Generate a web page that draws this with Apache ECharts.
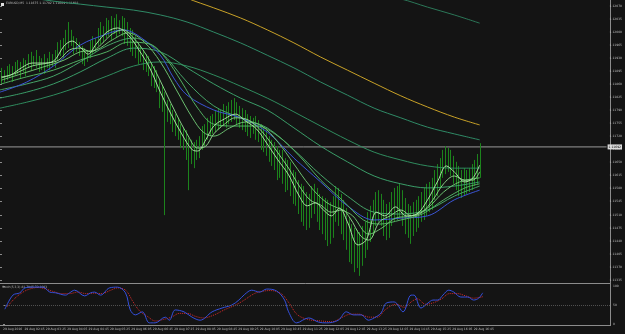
<!DOCTYPE html>
<html>
<head>
<meta charset="utf-8">
<script src="https://cdn.jsdelivr.net/npm/echarts@6/dist/echarts.min.js"></script>
<style>
  html, body { margin: 0; padding: 0; background: #141414; }
  #chart { width: 625px; height: 334px; }
</style>
</head>
<body>
<div id="chart"></div>
<script>
// EURUSD M5, 29 Aug 2016
const symbolTitle = 'EURUSD,M5  1.11675 1.11702 1.11609 1.11692';
const stochTitle = 'Stoch(5,3,3) 81.7045 72.1083';
const dayLabel = '29 Aug';
const firstLabel = '29 Aug 2016';
const firstBarMinutes = 125; // 02:05
const barMinutes = 5;
const slots = 227;           // bars that fit incl. chart shift
const labelEvery = 8;

// price axis ticks
const priceMin = 1.11335;
const priceMax = 1.12070;
const priceStep = 0.00035;
const lastClose = 1.11692;

const highs = [
  1.11904, 1.11898, 1.11909, 1.11914, 1.11909, 1.11920, 1.11925, 1.11920, 1.11930, 1.11925,
  1.11941, 1.11947, 1.11936, 1.11952, 1.11936, 1.11930, 1.11941, 1.11930, 1.11947, 1.11941,
  1.11952, 1.11973, 1.11979, 1.11984, 1.12006, 1.12027, 1.12006, 1.11989, 1.11984, 1.11973,
  1.11963, 1.11957, 1.11952, 1.11979, 1.11989, 1.11984, 1.12011, 1.12027, 1.12016, 1.12038,
  1.12032, 1.12043, 1.12038, 1.12048, 1.12032, 1.12043, 1.12038, 1.12027, 1.12011, 1.12006,
  1.11989, 1.11973, 1.11963, 1.11952, 1.11941, 1.11936, 1.11920, 1.11909, 1.11898, 1.11871,
  1.11855, 1.11839, 1.11818, 1.11807, 1.11791, 1.11780, 1.11770, 1.11753, 1.11743, 1.11737,
  1.11716, 1.11711, 1.11705, 1.11711, 1.11721, 1.11748, 1.11753, 1.11770, 1.11775, 1.11780,
  1.11791, 1.11796, 1.11791, 1.11807, 1.11802, 1.11812, 1.11818, 1.11823, 1.11812, 1.11802,
  1.11796, 1.11791, 1.11780, 1.11775, 1.11770, 1.11775, 1.11764, 1.11753, 1.11743, 1.11737,
  1.11721, 1.11711, 1.11705, 1.11694, 1.11684, 1.11684, 1.11662, 1.11657, 1.11652, 1.11630,
  1.11625, 1.11603, 1.11593, 1.11587, 1.11571, 1.11566, 1.11587, 1.11593, 1.11582, 1.11566,
  1.11560, 1.11555, 1.11550, 1.11544, 1.11560, 1.11587, 1.11582, 1.11566, 1.11550, 1.11528,
  1.11501, 1.11485, 1.11475, 1.11469, 1.11464, 1.11480, 1.11491, 1.11517, 1.11534, 1.11550,
  1.11571, 1.11576, 1.11566, 1.11550, 1.11539, 1.11544, 1.11571, 1.11582, 1.11587, 1.11593,
  1.11576, 1.11555, 1.11539, 1.11534, 1.11544, 1.11550, 1.11560, 1.11571, 1.11582, 1.11593,
  1.11598, 1.11609, 1.11630, 1.11646, 1.11662, 1.11684, 1.11694, 1.11689, 1.11684, 1.11668,
  1.11652, 1.11641, 1.11630, 1.11635, 1.11630, 1.11635, 1.11646, 1.11657, 1.11673, 1.11702
];
const lows = [
  1.11861, 1.11866, 1.11871, 1.11877, 1.11866, 1.11882, 1.11888, 1.11877, 1.11893, 1.11882,
  1.11904, 1.11898, 1.11909, 1.11904, 1.11893, 1.11898, 1.11888, 1.11904, 1.11898, 1.11909,
  1.11904, 1.11925, 1.11936, 1.11930, 1.11952, 1.11957, 1.11963, 1.11941, 1.11947, 1.11936,
  1.11914, 1.11909, 1.11920, 1.11930, 1.11941, 1.11947, 1.11963, 1.11968, 1.11973, 1.11984,
  1.11989, 1.11979, 1.11995, 1.11984, 1.11995, 1.11989, 1.11968, 1.11963, 1.11947, 1.11936,
  1.11930, 1.11914, 1.11920, 1.11898, 1.11893, 1.11882, 1.11855, 1.11850, 1.11839, 1.11796,
  1.11786, 1.11509, 1.11759, 1.11753, 1.11732, 1.11721, 1.11711, 1.11689, 1.11684, 1.11657,
  1.11576, 1.11646, 1.11635, 1.11657, 1.11662, 1.11684, 1.11694, 1.11711, 1.11721, 1.11727,
  1.11732, 1.11737, 1.11743, 1.11748, 1.11743, 1.11753, 1.11759, 1.11764, 1.11753, 1.11743,
  1.11737, 1.11732, 1.11721, 1.11716, 1.11727, 1.11711, 1.11705, 1.11684, 1.11678, 1.11668,
  1.11652, 1.11641, 1.11630, 1.11603, 1.11609, 1.11593, 1.11571, 1.11576, 1.11560, 1.11539,
  1.11534, 1.11512, 1.11491, 1.11480, 1.11469, 1.11475, 1.11501, 1.11512, 1.11491, 1.11469,
  1.11458, 1.11442, 1.11426, 1.11432, 1.11448, 1.11491, 1.11480, 1.11458, 1.11442, 1.11416,
  1.11383, 1.11378, 1.11356, 1.11367, 1.11346, 1.11373, 1.11394, 1.11416, 1.11437, 1.11453,
  1.11480, 1.11491, 1.11480, 1.11453, 1.11442, 1.11448, 1.11480, 1.11491, 1.11496, 1.11501,
  1.11480, 1.11458, 1.11448, 1.11432, 1.11453, 1.11464, 1.11475, 1.11491, 1.11496, 1.11507,
  1.11517, 1.11523, 1.11550, 1.11560, 1.11582, 1.11609, 1.11619, 1.11625, 1.11614, 1.11593,
  1.11576, 1.11560, 1.11555, 1.11560, 1.11566, 1.11571, 1.11576, 1.11587, 1.11593, 1.11609
];

// moving averages, read at bar positions [bar, price]
const maTop = [[130, 1.12118], [140, 1.12102], [150, 1.12089], [160, 1.12067], [170, 1.12046], [179.5, 1.12024]];
const maYellow = [[60, 1.12124], [70, 1.12091], [80, 1.12065], [90, 1.12038], [100, 1.12006], [110, 1.11971],
  [120, 1.11933], [130, 1.11898], [140, 1.11863], [150, 1.11829], [160, 1.11799], [170, 1.11772], [179.5, 1.11751]];
const maSlow = [[0, 1.12107], [10, 1.12094], [20, 1.12083], [30, 1.12075], [40, 1.12067], [50, 1.12059], [60, 1.12046],
  [70, 1.12027], [80, 1.12000], [90, 1.11971], [100, 1.11938], [110, 1.11904], [120, 1.11866], [130, 1.11831],
  [140, 1.11796], [150, 1.11770], [160, 1.11745], [170, 1.11727], [179.5, 1.11711]];
const maBars = [0, 10, 20, 30, 40, 50, 60, 70, 80, 90, 100, 110, 120, 130, 140, 150, 160, 170, 179.5];
const maMid3 = [1.11796, 1.11812, 1.11831, 1.11855, 1.11882, 1.11909, 1.11920, 1.11909, 1.11885, 1.11855,
  1.11823, 1.11786, 1.11748, 1.11711, 1.11678, 1.11657, 1.11641, 1.11635, 1.11635];
const maMid2 = [1.11823, 1.11839, 1.11861, 1.11893, 1.11930, 1.11957, 1.11947, 1.11904, 1.11861, 1.11823,
  1.11791, 1.11743, 1.11694, 1.11652, 1.11614, 1.11593, 1.11582, 1.11587, 1.11598];
const maMid1 = [1.11845, 1.11861, 1.11882, 1.11920, 1.11963, 1.11984, 1.11947, 1.11866, 1.11802, 1.11770,
  1.11743, 1.11684, 1.11617, 1.11560, 1.11517, 1.11512, 1.11523, 1.11560, 1.11587];
const maBlue = [[0, 1.11839], [10, 1.11866], [20, 1.11909], [30, 1.11965], [40, 1.11995], [46, 1.12006], [52, 1.11989],
  [60, 1.11938], [65, 1.11877], [70, 1.11831], [80, 1.11791], [90, 1.11770], [100, 1.11732], [110, 1.11662],
  [120, 1.11598], [130, 1.11534], [140, 1.11496], [150, 1.11501], [160, 1.11507], [170, 1.11550], [179.5, 1.11576]];
const maFast1 = [[0.5, 1.11880], [4, 1.11885], [8, 1.11904], [12, 1.11917], [16, 1.11917], [20, 1.11922], [24, 1.11963],
  [27, 1.11976], [30, 1.11960], [33, 1.11941], [36, 1.11968], [40, 1.12000], [44, 1.12011], [48, 1.11992], [52, 1.11952],
  [56, 1.11904], [60, 1.11839], [64, 1.11780], [68, 1.11727], [72, 1.11684], [74, 1.11681], [77, 1.11711], [80, 1.11748],
  [84, 1.11767], [88, 1.11780], [92, 1.11761], [96, 1.11740], [100, 1.11700], [104, 1.11657], [108, 1.11617],
  [112, 1.11560], [115, 1.11534], [118, 1.11542], [121, 1.11523], [124, 1.11507], [127, 1.11528], [130, 1.11491],
  [134, 1.11429], [137, 1.11442], [141, 1.11517], [144, 1.11507], [148, 1.11531], [152, 1.11507], [156, 1.11512],
  [160, 1.11550], [164, 1.11603], [167, 1.11641], [170, 1.11625], [174, 1.11598], [177, 1.11609], [179.5, 1.11643]];
const maFast2 = [[0.5, 1.11877], [6, 1.11890], [12, 1.11909], [18, 1.11917], [22, 1.11925], [26, 1.11952], [30, 1.11957],
  [34, 1.11947], [38, 1.11968], [42, 1.11995], [46, 1.12006], [50, 1.11984], [54, 1.11947], [58, 1.11898], [62, 1.11839],
  [66, 1.11780], [70, 1.11727], [74, 1.11689], [77, 1.11694], [80, 1.11727], [84, 1.11753], [88, 1.11770], [92, 1.11767],
  [96, 1.11748], [100, 1.11716], [104, 1.11676], [108, 1.11635], [112, 1.11587], [116, 1.11550], [120, 1.11536],
  [124, 1.11517], [128, 1.11523], [131, 1.11501], [135, 1.11453], [138, 1.11442], [142, 1.11491], [146, 1.11507],
  [150, 1.11523], [154, 1.11507], [158, 1.11517], [162, 1.11550], [166, 1.11593], [170, 1.11614], [174, 1.11603],
  [177, 1.11603], [179.5, 1.11625]];
const maFast3 = [[0.5, 1.11871], [8, 1.11888], [16, 1.11906], [24, 1.11925], [30, 1.11947], [36, 1.11952], [42, 1.11979],
  [48, 1.11998], [54, 1.11973], [60, 1.11920], [66, 1.11845], [72, 1.11770], [76, 1.11732], [80, 1.11721], [86, 1.11743],
  [92, 1.11759], [98, 1.11748], [104, 1.11705], [110, 1.11646], [116, 1.11587], [122, 1.11544], [128, 1.11523],
  [132, 1.11507], [138, 1.11458], [143, 1.11475], [148, 1.11501], [154, 1.11507], [160, 1.11528], [166, 1.11571],
  [172, 1.11598], [179.5, 1.11609]];
const maFast4 = [[0.5, 1.11861], [10, 1.11880], [20, 1.11898], [30, 1.11925], [40, 1.11947], [48, 1.11973], [56, 1.11968],
  [62, 1.11930], [68, 1.11866], [74, 1.11796], [80, 1.11753], [88, 1.11748], [96, 1.11748], [104, 1.11721],
  [112, 1.11668], [120, 1.11603], [128, 1.11550], [136, 1.11496], [142, 1.11485], [150, 1.11496], [158, 1.11512],
  [166, 1.11550], [174, 1.11582], [179.5, 1.11593]];

// stochastic oscillator, [bar, value]
const stochMain = [[0.7, 39], [3.7, 76], [6.3, 82], [8.2, 95], [11.2, 97], [14.9, 97], [17.5, 84], [19.7, 82], [23.4, 76],
  [24.9, 82], [26.8, 89], [30.5, 74], [32.8, 82], [34.2, 84], [36.5, 76], [39.8, 95], [42.8, 97], [45.8, 82], [47.6, 37],
  [49.5, 24], [52.1, 32], [54.7, 3], [56.9, 3], [60.7, 18], [62.2, 10], [64.4, 37], [67.7, 32], [70.7, 18], [73.7, 10],
  [78.2, 32], [81.9, 42], [85.6, 50], [88.2, 63], [90.4, 78], [93, 89], [96, 84], [98.6, 92], [102.3, 87], [105.3, 63],
  [106.8, 32], [109.8, 3], [114.3, 16], [118, 5], [121, 3], [125.4, 10], [128.4, 32], [131, 24], [134, 24], [136.6, 10],
  [138.8, 16], [141.4, 29], [143.3, 55], [146.3, 58], [149.6, 32], [152.6, 76], [153.7, 76], [156.3, 42], [158.9, 55],
  [160.8, 63], [162.6, 63], [164.5, 76], [166.7, 89], [168.6, 84], [171.2, 71], [173.8, 71], [176, 63], [177.9, 68],
  [179.4, 82]];
const stochSignal = [[1.5, 45], [4.5, 68], [7.5, 84], [10, 92], [13, 96], [16, 92], [19, 85], [22, 80], [25, 80], [28, 84],
  [31, 80], [34, 81], [37, 80], [40, 88], [43, 95], [46, 88], [48.5, 60], [51, 35], [54, 20], [57, 8], [60, 12], [63, 18],
  [66, 28], [69, 28], [72, 20], [75, 16], [79, 24], [83, 38], [87, 50], [90, 62], [94, 80], [97, 86], [100, 88], [104, 80],
  [107, 55], [110, 25], [114, 12], [119, 8], [123, 6], [127, 18], [130, 26], [133, 26], [137, 18], [140, 18], [143, 38],
  [147, 52], [150, 44], [153, 60], [155, 66], [158, 52], [161, 56], [164, 66], [167, 80], [170, 80], [173, 74],
  [176, 68], [179.5, 72]];
const stochLevel = 50;

const textColor = '#bdbdbd';
const frameColor = '#8c8c8c';
const font = 'DejaVu Sans';

function pad(n) { return (n < 10 ? '0' : '') + n; }
function timeLabel(v) {
  if (v === 0) return firstLabel;
  if (v > highs.length) return '';
  const m = firstBarMinutes + v * barMinutes;
  return dayLabel + ' ' + pad(Math.floor(m / 60) % 24) + ':' + pad(m % 60);
}

function renderBar(params, api) {
  const u = api.value(0);
  const top = api.coord([u, api.value(2)]);
  const bottom = api.coord([u, api.value(1)]);
  const x = Math.round(top[0]) + 0.5;
  return {
    type: 'line',
    shape: { x1: x, y1: top[1], x2: x, y2: bottom[1] },
    style: { stroke: '#1c831c', lineWidth: 1 }
  };
}

function maLine(name, data, color) {
  return {
    name, type: 'line', xAxisIndex: 0, yAxisIndex: 0, data,
    showSymbol: false, smooth: 0.35, clip: false, silent: true,
    lineStyle: { color, width: 1 }, z: 3
  };
}
const zip = (vals) => maBars.map((b, i) => [b, vals[i]]);

const chart = echarts.init(document.getElementById('chart'), null, { renderer: 'canvas' });
chart.setOption({
  animation: false,
  backgroundColor: '#141414',
  grid: [
    { left: 0, right: 15, top: 6, bottom: 54 },
    { left: 0, right: 15, top: 286, bottom: 10 }
  ],
  xAxis: [
    { gridIndex: 0, type: 'value', min: 0, max: slots, show: false },
    {
      gridIndex: 1, type: 'value', min: 0, max: slots, interval: labelEvery,
      axisLine: { show: false }, axisTick: { show: false }, splitLine: { show: false },
      axisLabel: { color: textColor, fontSize: 3, fontFamily: font, align: 'left', margin: 4,
        showMaxLabel: false, formatter: timeLabel }
    }
  ],
  yAxis: [
    {
      gridIndex: 0, type: 'value', position: 'right', min: priceMin, max: priceMax, interval: priceStep,
      axisLine: { show: false }, splitLine: { show: false },
      axisTick: { show: true, length: 2, lineStyle: { color: frameColor } },
      axisLabel: { color: textColor, fontSize: 3, fontFamily: font, margin: 3, formatter: v => v.toFixed(5) }
    },
    {
      gridIndex: 1, type: 'value', position: 'right', min: 0, max: 100, interval: 50,
      axisLine: { show: false }, splitLine: { show: false },
      axisTick: { show: true, length: 2, lineStyle: { color: frameColor } },
      axisLabel: { color: textColor, fontSize: 3, fontFamily: font, margin: 3, formatter: v => String(v) }
    }
  ],
  series: [
    {
      name: 'bars', type: 'custom', xAxisIndex: 0, yAxisIndex: 0, renderItem: renderBar, silent: true,
      encode: { x: 0, y: [1, 2] }, z: 2,
      data: highs.map((h, i) => [i + 0.5, lows[i], h])
    },
    {
      name: 'bid', type: 'line', xAxisIndex: 0, yAxisIndex: 0, silent: true, showSymbol: false, z: 1,
      data: [[0, lastClose], [slots, lastClose]],
      lineStyle: { color: '#9a9a9a', width: 1 },
      endLabel: { show: true, distance: 1, formatter: () => lastClose.toFixed(5), color: '#000',
        backgroundColor: '#dcdcdc', fontSize: 3, fontFamily: font, padding: [1, 1] }
    },
    maLine('top', maTop, '#2b7758'),
    maLine('yellow', maYellow, '#c9a227'),
    maLine('slow', maSlow, '#2f8a66'),
    maLine('mid3', zip(maMid3), '#2f8c5e'),
    maLine('mid2', zip(maMid2), '#3a9d68'),
    maLine('mid1', zip(maMid1), '#46a468'),
    maLine('blue', maBlue, '#3b55d6'),
    maLine('fast4', maFast4, '#52b062'),
    maLine('fast3', maFast3, '#6cc070'),
    maLine('fast2', maFast2, '#8ad088'),
    maLine('fast1', maFast1, '#a8dea2'),
    {
      name: 'stoch signal', type: 'line', xAxisIndex: 1, yAxisIndex: 1, data: stochSignal,
      showSymbol: false, smooth: 0.35, silent: true,
      lineStyle: { color: '#d42a2a', width: 1, type: 'dotted' }
    },
    {
      name: 'stoch main', type: 'line', xAxisIndex: 1, yAxisIndex: 1, data: stochMain,
      showSymbol: false, smooth: 0.35, silent: true,
      lineStyle: { color: '#3550dc', width: 1 },
      markLine: {
        silent: true, symbol: 'none', label: { show: false },
        lineStyle: { color: '#505050', width: 1, type: 'dotted' },
        data: [{ yAxis: stochLevel }]
      }
    }
  ],
  graphic: [
    { type: 'line', shape: { x1: 610.5, y1: 0, x2: 610.5, y2: 326 }, style: { stroke: frameColor, lineWidth: 1 }, silent: true },
    { type: 'line', shape: { x1: 0, y1: 283.5, x2: 610.5, y2: 283.5 }, style: { stroke: frameColor, lineWidth: 1 }, silent: true },
    { type: 'line', shape: { x1: 0, y1: 325.5, x2: 610.5, y2: 325.5 }, style: { stroke: frameColor, lineWidth: 1 }, silent: true },
    { type: 'rect', shape: { x: 1, y: 3, width: 3, height: 3 }, style: { fill: '#e0e0e0' }, silent: true },
    { type: 'text', left: 6, top: 2, silent: true,
      style: { text: symbolTitle, fill: textColor, fontSize: 3, fontFamily: font } },
    { type: 'text', left: 2, top: 286, silent: true,
      style: { text: stochTitle, fill: textColor, fontSize: 3, fontFamily: font } }
  ]
});
</script>
</body>
</html>
